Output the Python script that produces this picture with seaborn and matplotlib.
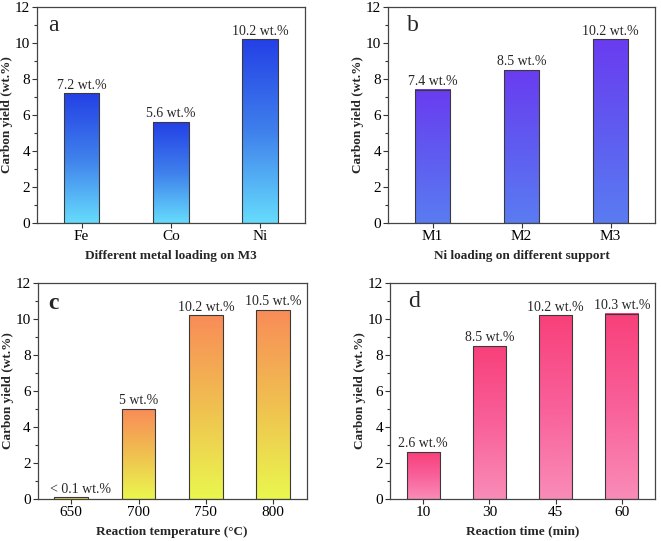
import numpy as np
import pandas as pd
import matplotlib
matplotlib.use("Agg")
import matplotlib.pyplot as plt
import seaborn as sns
from matplotlib.colors import LinearSegmentedColormap
from matplotlib.ticker import MultipleLocator

sns.set_style("ticks")
plt.rcParams['font.family'] = ['Liberation Serif', 'DejaVu Serif']

# data
metals = ["Fe", "Co", "Ni"]
metal_yield = [7.2, 5.6, 10.2]
metal_labels = ["7.2 wt.%", "5.6 wt.%", "10.2 wt.%"]

supports = ["M1", "M2", "M3"]
support_yield = [7.4, 8.5, 10.2]
support_labels = ["7.4 wt.%", "8.5 wt.%", "10.2 wt.%"]

temps = ["650", "700", "750", "800"]
temp_yield = [0.08, 5.0, 10.2, 10.5]
temp_labels = ["< 0.1 wt.%", "5 wt.%", "10.2 wt.%", "10.5 wt.%"]

times = ["10", "30", "45", "60"]
time_yield = [2.6, 8.5, 10.2, 10.3]
time_labels = ["2.6 wt.%", "8.5 wt.%", "10.2 wt.%", "10.3 wt.%"]

fig = plt.figure(figsize=(6.61, 5.41), dpi=100)

panels = [
    # rect, x, y, labels, xlabel, letter, (bottom, mid, top) colours, bar width, letter pos
    ([0.056, 0.588, 0.405, 0.399], metals, metal_yield, metal_labels,
     "Different metal loading on M3", "a", ["#66dcfc", "#3f80ec", "#2440e6"], 0.4, (0.04, 0.915), 'normal'),
    ([0.587, 0.588, 0.404, 0.399], supports, support_yield, support_labels,
     "Ni loading on different support", "b", ["#5a7cf2", "#5f5cf0", "#6a3cf0"], 0.4, (0.07, 0.915), 'normal'),
    ([0.057, 0.078, 0.407, 0.399], temps, temp_yield, temp_labels,
     "Reaction temperature (\u00b0C)", "c", ["#eaf74e", "#f0c050", "#f98c58"], 0.5, (0.04, 0.905), 'bold'),
    ([0.590, 0.078, 0.401, 0.399], times, time_yield, time_labels,
     "Reaction time (min)", "d", ["#f98cb8", "#f9609a", "#f8407a"], 0.5, (0.07, 0.915), 'normal'),
]

for rect, cats, vals, labs, xlab, letter, cols, bw, lpos, lweight in panels:
    ax = fig.add_axes(rect)
    df = pd.DataFrame({"cat": cats, "val": vals})
    sns.barplot(data=df, x="cat", y="val", ax=ax, width=bw, color=cols[1],
                edgecolor="#3a3a3a", linewidth=0.8, zorder=3)
    cmap = LinearSegmentedColormap.from_list("g", cols)
    grad = np.linspace(0, 1, 256).reshape(-1, 1)
    for bar in ax.patches:
        x0, y0 = bar.get_xy()
        w, h = bar.get_width(), bar.get_height()
        ax.imshow(grad, extent=[x0, x0 + w, y0, y0 + h], origin="lower",
                  cmap=cmap, aspect="auto", zorder=2)
        bar.set_facecolor("none")
    for i, (v, t) in enumerate(zip(vals, labs)):
        dx = 0.13 if t.startswith("<") else 0
        ax.text(i + dx, v + 0.1, t, ha="center", va="bottom", fontsize=10)

    ax.set_xlim(-0.5, len(cats) - 0.5)
    ax.set_ylim(0, 12)
    ax.yaxis.set_major_locator(MultipleLocator(2))
    ax.yaxis.set_minor_locator(MultipleLocator(1))
    ax.tick_params(axis="both", which="both", direction="out", labelsize=11,
                   top=False, right=False, colors="#333333", labelcolor="black")
    ax.tick_params(which="major", length=3.5, width=0.8, pad=1.5)
    ax.tick_params(which="minor", length=2, width=0.8)
    for s in ax.spines.values():
        s.set_visible(True)
        s.set_linewidth(0.9)
        s.set_color("#444444")
    ax.set_xlabel(xlab, fontsize=9.5, fontweight="bold", labelpad=5)
    ax.set_ylabel("Carbon yield (wt.%)", fontsize=9.5, fontweight="bold", labelpad=1)
    ax.text(lpos[0], lpos[1], letter, transform=ax.transAxes, fontsize=17,
            fontweight=lweight, ha="left", va="center")

fig.savefig("out.png", dpi=100)
